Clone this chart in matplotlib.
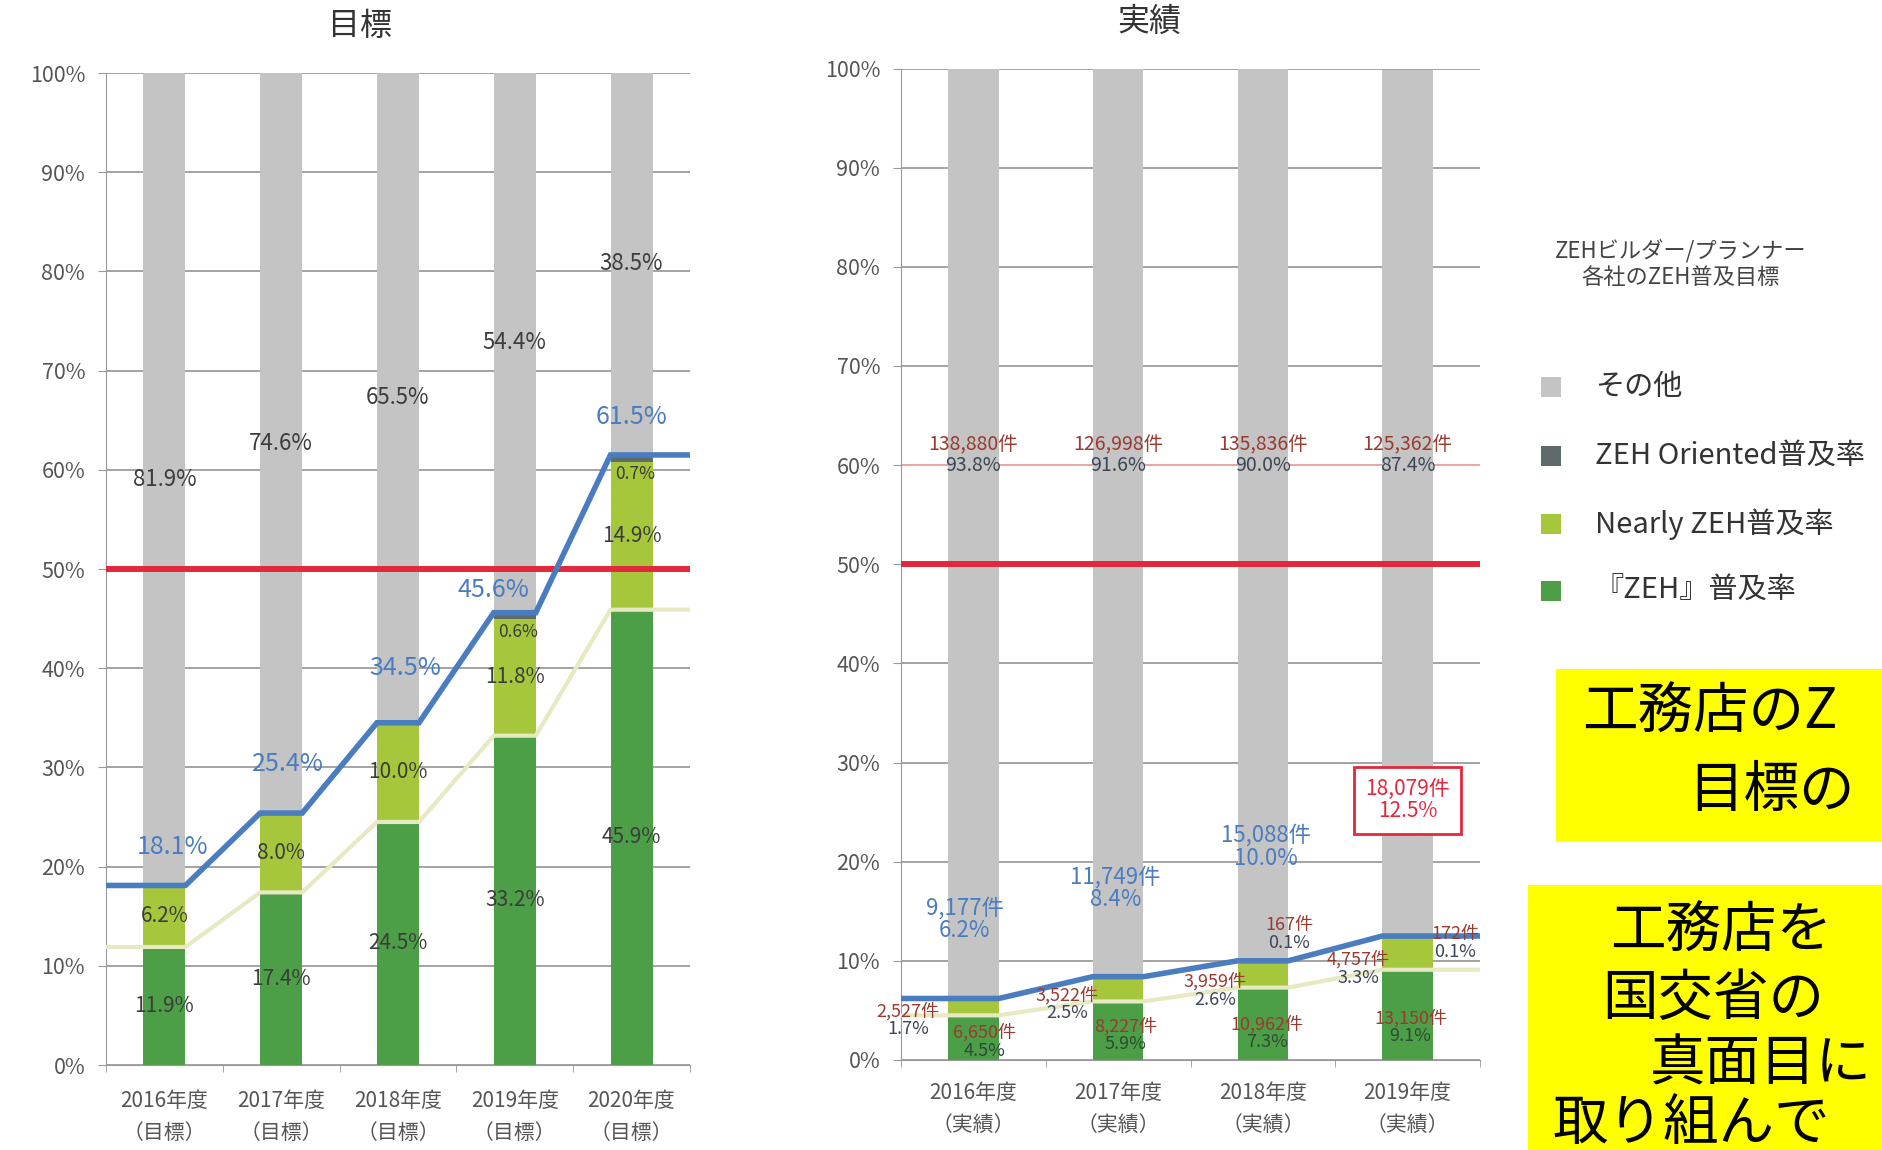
import matplotlib.pyplot as plt
import matplotlib.patches as mpatches
import numpy as np

plt.rcParams['font.family'] = ['Noto Sans CJK JP', 'DejaVu Sans']

# 目標 (left chart), %
years_t = ['2016年度\n（目標）', '2017年度\n（目標）', '2018年度\n（目標）', '2019年度\n（目標）', '2020年度\n（目標）']
zeh_t = [11.9, 17.4, 24.5, 33.2, 45.9]
nearly_t = [6.2, 8.0, 10.0, 11.8, 14.9]
oriented_t = [0.0, 0.0, 0.0, 0.6, 0.7]
total_t = [18.1, 25.4, 34.5, 45.6, 61.5]
other_t = [81.9, 74.6, 65.5, 54.4, 38.5]

# 実績 (right chart), % and 件
years_a = ['2016年度\n（実績）', '2017年度\n（実績）', '2018年度\n（実績）', '2019年度\n（実績）']
zeh_a = [4.5, 5.9, 7.3, 9.1]
zeh_n = [6650, 8227, 10962, 13150]
nearly_a = [1.7, 2.5, 2.6, 3.3]
nearly_n = [2527, 3522, 3959, 4757]
oriented_a = [0.0, 0.0, 0.1, 0.1]
oriented_n = [0, 0, 167, 172]
total_a = [6.2, 8.4, 10.0, 12.5]
total_n = [9177, 11749, 15088, 18079]
other_a = [93.8, 91.6, 90.0, 87.4]
other_n = [138880, 126998, 135836, 125362]

goal = 50

legend_title = 'ZEHビルダー/プランナー\n各社のZEH普及目標'
legend_labels = ['その他', 'ZEH Oriented普及率', 'Nearly ZEH普及率', '『ZEH』普及率']

c_other = '#c4c4c4'
c_ori = '#5f6b6b'
c_nearly = '#a6c63c'
c_zeh = '#4c9e47'
c_blue = '#4a7cc0'
c_red = '#e3283c'
c_pale = '#e6e9c2'
c_txt = '#3c3c3c'
c_cnt = '#9a3b30'


def setup(ax, labels, pad_x):
    n = len(labels)
    ax.set_xlim(-0.5, n - 0.5)
    ax.set_ylim(0, 100)
    ticks = list(range(0, 101, 10))
    ax.set_yticks(ticks)
    ax.set_yticklabels([f'{t}%' for t in ticks])
    ax.set_xticks(range(n))
    ax.set_xticklabels(labels, linespacing=1.6)
    ax.set_xticks(np.arange(-0.5, n), minor=True)
    ax.tick_params(axis='x', which='major', length=0, pad=pad_x, labelsize=15, labelcolor='#555555')
    ax.tick_params(axis='x', which='minor', length=5, color='#999999')
    ax.tick_params(axis='y', length=6, color='#999999', labelsize=15.5, labelcolor='#555555', pad=9)
    ax.grid(axis='y', color='#8a8a8a', lw=1.1)
    ax.set_axisbelow(True)
    for s in ['top', 'right']:
        ax.spines[s].set_visible(False)
    ax.spines['left'].set_color('#999999')
    ax.spines['bottom'].set_color('#999999')


def series_line(ax, vals, w, **kw):
    xs, ys = [-0.5], [vals[0]]
    for i, v in enumerate(vals):
        xs += [i - w / 2, i + w / 2]
        ys += [v, v]
    xs.append(len(vals) - 0.5)
    ys.append(vals[-1])
    ax.plot(xs, ys, **kw)


def two_line(ax, x, y, n, v, c1, c2, size):
    ax.text(x, y, f'{n:,}件', ha='center', va='bottom', color=c1, fontsize=size, zorder=6)
    ax.text(x, y, f'{v:.1f}%', ha='center', va='top', color=c2, fontsize=size, zorder=6)


fig = plt.figure(figsize=(18.83, 11.5), dpi=100)

# ---- 目標 ----
ax1 = fig.add_axes([0.0563, 0.0739, 0.3101, 0.8626])
setup(ax1, years_t, 18)
w1 = 0.36
x1 = np.arange(len(years_t))
b = np.zeros(len(x1))
for vals, col in [(zeh_t, c_zeh), (nearly_t, c_nearly), (oriented_t, c_ori), (other_t, c_other)]:
    ax1.bar(x1, vals, w1, bottom=b, color=col, zorder=2)
    b = b + np.array(vals)
ax1.axhline(goal, color=c_red, lw=4.3, zorder=3)
series_line(ax1, zeh_t, w1, color=c_pale, lw=3, zorder=3)
series_line(ax1, total_t, w1, color=c_blue, lw=4, zorder=4, solid_joinstyle='miter')

tot_dx = [0.07, 0.06, 0.06, -0.18, 0.0]
tot_dy = [3.9, 4.9, 5.5, 2.3, 3.8]
for i in x1:
    ax1.text(i, zeh_t[i] / 2, f'{zeh_t[i]:.1f}%', ha='center', va='center', color=c_txt, fontsize=15, zorder=6)
    ax1.text(i, zeh_t[i] + nearly_t[i] / 2, f'{nearly_t[i]:.1f}%', ha='center', va='center', color=c_txt, fontsize=15, zorder=6)
    if oriented_t[i] > 0:
        ax1.text(i + 0.03, total_t[i] - 1.9, f'{oriented_t[i]:.1f}%', ha='center', va='center', color=c_txt, fontsize=12.5, zorder=6)
    ax1.text(i + tot_dx[i], total_t[i] + tot_dy[i], f'{total_t[i]:.1f}%', ha='center', va='center', color=c_blue, fontsize=18, zorder=6)
    ax1.text(i, (total_t[i] + 100) / 2, f'{other_t[i]:.1f}%', ha='center', va='center', color=c_txt, fontsize=16, zorder=6)

fig.text(360 / 1883, 1 - 26 / 1150, '目標', ha='center', va='center', fontsize=23, color='#333333')

# ---- 実績 ----
ax2 = fig.add_axes([0.4785, 0.0783, 0.3075, 0.8621])
setup(ax2, years_a, 16)
for gl in ax2.get_ygridlines():
    if abs(gl.get_ydata()[0] - 60) < 0.01:
        gl.set_color('#e58a8a')
w2 = 0.35
x2 = np.arange(len(years_a))
b = np.zeros(len(x2))
for vals, col in [(zeh_a, c_zeh), (nearly_a, c_nearly), (oriented_a, c_ori), (other_a, c_other)]:
    ax2.bar(x2, vals, w2, bottom=b, color=col, zorder=2)
    b = b + np.array(vals)
ax2.axhline(goal, color=c_red, lw=4.3, zorder=3)
series_line(ax2, zeh_a, w2, color=c_pale, lw=3, zorder=3)
series_line(ax2, total_a, w2, color=c_blue, lw=4, zorder=4, solid_joinstyle='miter')

tot_lx = [-0.06, -0.02, 0.02, 0.0]
tot_ly = [14.2, 17.3, 21.5, 26.2]
ori_lx = [0, 0, 0.18, 0.33]
ori_ly = [0, 0, 12.7, 11.8]
nea_lx = [-0.45, -0.35, -0.33, -0.34]
nea_ly = [4.0, 5.6, 7.0, 9.2]
zeh_lx = [0.08, 0.05, 0.03, 0.02]
zeh_ly = [1.8, 2.5, 2.7, 3.3]
for i in x2:
    two_line(ax2, i, 61, other_n[i], other_a[i], c_cnt, '#3d4656', 14)
    two_line(ax2, i + zeh_lx[i], zeh_ly[i], zeh_n[i], zeh_a[i], c_cnt, '#2f4a35', 13)
    two_line(ax2, i + nea_lx[i], nea_ly[i], nearly_n[i], nearly_a[i], c_cnt, '#3d4656', 13)
    if oriented_n[i] > 0:
        two_line(ax2, i + ori_lx[i], ori_ly[i], oriented_n[i], oriented_a[i], c_cnt, '#3d4656', 13)
    if i < len(x2) - 1:
        ax2.text(i + tot_lx[i], tot_ly[i], f'{total_n[i]:,}件\n{total_a[i]:.1f}%', ha='center', va='center',
                 color=c_blue, fontsize=16, linespacing=1.0, zorder=6)
    else:
        ax2.text(i + tot_lx[i], tot_ly[i], f'{total_n[i]:,}件\n{total_a[i]:.1f}%', ha='center', va='center',
                 color=c_red, fontsize=15, linespacing=1.0, zorder=6,
                 bbox=dict(boxstyle='square,pad=0.55', facecolor='white', edgecolor=c_red, lw=2))

fig.text(1149 / 1883, 1 - 22 / 1150, '実績', ha='center', va='center', fontsize=23, color='#333333')

# ---- legend ----
fig.text(1681 / 1883, 1 - 264 / 1150, legend_title, ha='center', va='center', fontsize=16,
         color='#444444', linespacing=1.15, multialignment='center')
leg_cols = [c_other, c_ori, c_nearly, c_zeh]
leg_y = [387, 456, 524, 591]
for lab, col, yy in zip(legend_labels, leg_cols, leg_y):
    fig.patches.append(mpatches.Rectangle((1541 / 1883, 1 - (yy + 10) / 1150), 20 / 1883, 20 / 1150,
                                          transform=fig.transFigure, facecolor=col, edgecolor='none'))
    fig.text(1595 / 1883, 1 - yy / 1150, lab, ha='left', va='center', fontsize=21, color='#333333')

# ---- yellow notes (cut off at the right edge in the source) ----
fig.patches.append(mpatches.Rectangle((1556 / 1883, 1 - 842 / 1150), 1 - 1556 / 1883, 173 / 1150,
                                      transform=fig.transFigure, facecolor='#ffff00', edgecolor='none'))
fig.patches.append(mpatches.Rectangle((1528 / 1883, 0), 1 - 1528 / 1883, 1 - 885 / 1150,
                                      transform=fig.transFigure, facecolor='#ffff00', edgecolor='none'))
notes = [('工務店のZ', 1582, 713), ('目標の', 1688, 791),
         ('工務店を', 1610, 932), ('国交省の', 1602, 999),
         ('真面目に', 1650, 1065), ('取り組んで', 1553, 1124)]
for txt, xx, yy in notes:
    fig.text(xx / 1883, 1 - yy / 1150, txt, ha='left', va='center', fontsize=40, color='black')

fig.savefig('out.png', dpi=100)
